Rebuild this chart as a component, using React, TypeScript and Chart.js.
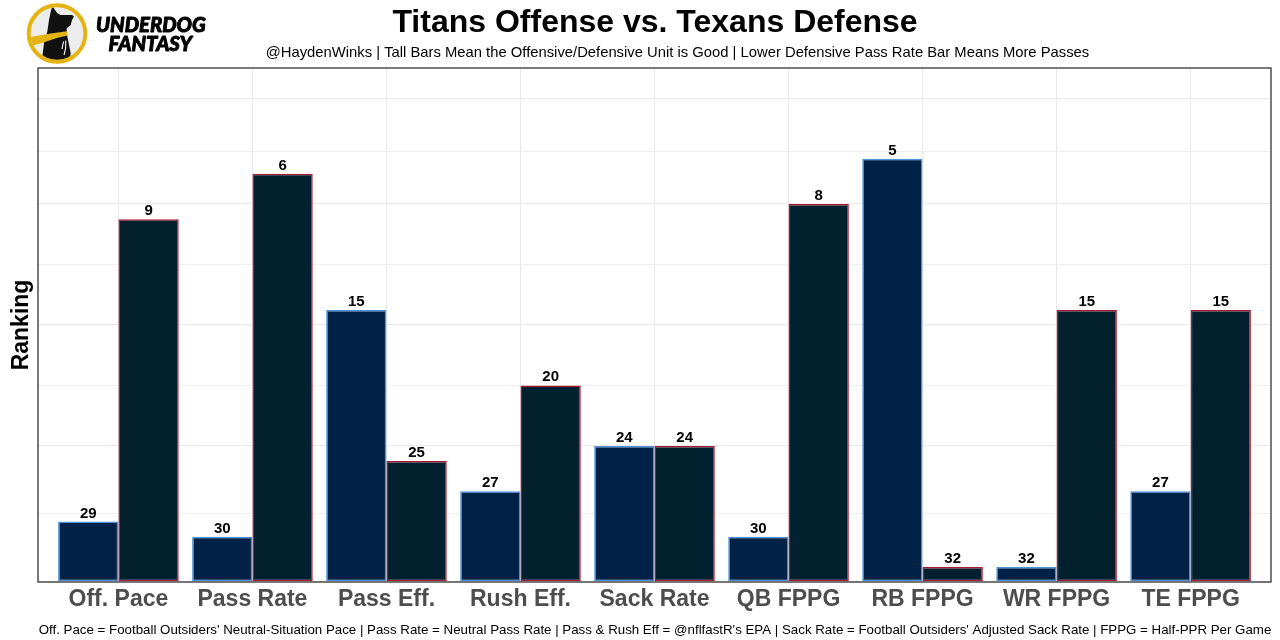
import React, { useEffect, useRef } from "react";
import { Chart, registerables } from "chart.js";

Chart.register(...registerables);

// ---------- data ----------
const categories = [
  "Off. Pace",
  "Pass Rate",
  "Pass Eff.",
  "Rush Eff.",
  "Sack Rate",
  "QB FPPG",
  "RB FPPG",
  "WR FPPG",
  "TE FPPG",
];
const titansOffenseRanks = [29, 30, 15, 27, 24, 30, 5, 32, 27];
const texansDefenseRanks = [9, 6, 25, 20, 24, 8, 32, 15, 15];
const rankBase = 33; // bar height = rankBase - rank (tall bar = good unit)
const majorBreaks = [0, 9, 17, 25, 32];
const minorBreaks = [4.5, 13, 21, 28.5];

const titleText = "Titans Offense vs. Texans Defense";
const subtitleText =
  "@HaydenWinks | Tall Bars Mean the Offensive/Defensive Unit is Good | Lower Defensive Pass Rate Bar Means More Passes";
const captionText =
  "Off. Pace = Football Outsiders' Neutral-Situation Pace | Pass Rate = Neutral Pass Rate | Pass & Rush Eff = @nflfastR's EPA | Sack Rate = Football Outsiders' Adjusted Sack Rate | FPPG = Half-PPR Per Game";
const yTitle = "Ranking";

const FONT = '"Liberation Sans", Arial, Helvetica, sans-serif';

const rankSets = [titansOffenseRanks, texansDefenseRanks];

function drawLogo(ctx: CanvasRenderingContext2D) {
  const cx = 57, cy = 33.5;
  const gold = "#e6b412";
  ctx.save();
  ctx.beginPath();
  ctx.arc(cx, cy, 26.5, 0, Math.PI * 2);
  ctx.fillStyle = "#ececec";
  ctx.fill();
  ctx.save();
  ctx.beginPath();
  ctx.arc(cx, cy, 26.5, 0, Math.PI * 2);
  ctx.clip();
  // dog silhouette
  ctx.fillStyle = "#111111";
  ctx.beginPath();
  const pts: [number, number][] = [
    [50.7, 11.7], [52.3, 6], [57.3, 13.3], [60.7, 15], [72.3, 15], [74, 16.7],
    [72, 20], [70.7, 25], [66.7, 28.3], [66.7, 33.3], [70.7, 53.3], [69, 66],
    [40.7, 66], [42.3, 56.7], [44, 43.3], [47.3, 31.7], [49, 20],
  ];
  pts.forEach(([x, y], i) => (i === 0 ? ctx.moveTo(x, y) : ctx.lineTo(x, y)));
  ctx.closePath();
  ctx.fill();
  // scarf
  ctx.fillStyle = gold;
  ctx.beginPath();
  ctx.moveTo(28, 37.3);
  ctx.quadraticCurveTo(42, 35, 52.3, 33.3);
  ctx.lineTo(67.3, 31.2);
  ctx.lineTo(67.5, 35.5);
  ctx.quadraticCurveTo(58, 37, 50.7, 40);
  ctx.quadraticCurveTo(40, 44, 28, 47);
  ctx.closePath();
  ctx.fill();
  // collar tag highlight
  ctx.strokeStyle = "#ffffff";
  ctx.lineWidth = 1.1;
  ctx.beginPath();
  ctx.moveTo(65.7, 40.5);
  ctx.quadraticCurveTo(66.5, 48, 64, 55);
  ctx.stroke();
  ctx.beginPath();
  ctx.moveTo(63.5, 41.5);
  ctx.lineTo(62, 49);
  ctx.stroke();
  ctx.restore();
  // ring
  ctx.beginPath();
  ctx.arc(cx, cy, 28.3, 0, Math.PI * 2);
  ctx.strokeStyle = gold;
  ctx.lineWidth = 4;
  ctx.stroke();

  ctx.fillStyle = "#000";
  ctx.strokeStyle = "#000";
  ctx.lineWidth = 0.9;
  ctx.lineJoin = "round";
  ctx.textAlign = "left";
  ctx.textBaseline = "alphabetic";
  ctx.font = `italic 900 20.3px Lato, "DejaVu Sans", sans-serif`;
  ctx.fillText("UNDERDOG", 96, 32);
  ctx.strokeText("UNDERDOG", 96, 32);
  ctx.fillText("FANTASY", 108.5, 51);
  ctx.strokeText("FANTASY", 108.5, 51);
  ctx.restore();
}

const decorPlugin = {
  id: "decor",
  afterDatasetsDraw(chart: any) {
    const ctx = chart.ctx;
    ctx.save();
    ctx.font = `bold 15px ${FONT}`;
    ctx.fillStyle = "#000";
    ctx.textAlign = "center";
    ctx.textBaseline = "alphabetic";
    chart.data.datasets.forEach((_ds: any, di: number) => {
      const meta = chart.getDatasetMeta(di);
      meta.data.forEach((el: any, i: number) => {
        ctx.fillText(String(rankSets[di][i]), el.x, el.y - 4);
      });
    });
    ctx.restore();
  },
  afterDraw(chart: any) {
    const ctx = chart.ctx;
    const a = chart.chartArea;
    ctx.save();
    // panel border
    ctx.strokeStyle = "#333333";
    ctx.lineWidth = 1.3;
    ctx.strokeRect(a.left, a.top, a.right - a.left, a.bottom - a.top);

    // title / subtitle
    ctx.fillStyle = "#000";
    ctx.textAlign = "center";
    ctx.textBaseline = "alphabetic";
    ctx.font = `bold 32px ${FONT}`;
    ctx.fillText(titleText, 655, 32);
    ctx.font = `14.8px ${FONT}`;
    ctx.fillText(subtitleText, 677.5, 57);
    // caption
    ctx.font = `13.3px ${FONT}`;
    ctx.fillText(captionText, 655, 634);

    // y title
    ctx.save();
    ctx.translate(28, (a.top + a.bottom) / 2);
    ctx.rotate(-Math.PI / 2);
    ctx.font = `bold 23px ${FONT}`;
    ctx.fillText(yTitle, 0, 0);
    ctx.restore();

    drawLogo(ctx);
    ctx.restore();
  },
};

export default function App() {
  const ref = useRef<HTMLCanvasElement | null>(null);
  useEffect(() => {
    document.body.style.margin = "0";
    const canvas = ref.current;
    if (!canvas) return;
    const chart = new Chart(canvas, {
      type: "bar",
      data: {
        datasets: [
          {
            label: "Titans Offense",
            data: categories.map((_c, i) => ({ x: i, y: rankBase - titansOffenseRanks[i] })),
            backgroundColor: "#012147",
            borderColor: "#4B92DB",
            borderWidth: 1.5,
            borderSkipped: false,
            categoryPercentage: 0.9,
            barPercentage: 1.0,
          },
          {
            label: "Texans Defense",
            data: categories.map((_c, i) => ({ x: i, y: rankBase - texansDefenseRanks[i] })),
            backgroundColor: "#03202F",
            borderColor: "#A71930",
            borderWidth: 1.5,
            borderSkipped: false,
            categoryPercentage: 0.9,
            barPercentage: 1.0,
          },
        ],
      },
      options: {
        responsive: false,
        animation: false,
        devicePixelRatio: 1,
        layout: { padding: { left: 38, right: 9, top: 68, bottom: 0 } },
        plugins: {
          legend: { display: false },
          title: { display: false },
          tooltip: { enabled: false },
        },
        scales: {
          x: {
            type: "linear",
            min: -0.6,
            max: 8.6,
            offset: false,
            afterBuildTicks: (scale: any) => {
              scale.ticks = categories.map((_c, i) => ({ value: i }));
            },
            afterFit: (scale: any) => {
              scale.height = 58;
            },
            grid: { color: "#ebebeb", lineWidth: 1.1, drawTicks: false, offset: false },
            border: { display: false },
            ticks: {
              autoSkip: false,
              maxRotation: 0,
              minRotation: 0,
              padding: 4,
              color: "#4d4d4d",
              font: { family: FONT, size: 23, weight: "bold" },
              callback: (_v: any, i: number) => categories[i],
            },
          },
          y: {
            type: "linear",
            min: 0,
            max: 34,
            afterBuildTicks: (scale: any) => {
              scale.ticks = [...majorBreaks, ...minorBreaks]
                .sort((p, q) => p - q)
                .map((v) => ({ value: v }));
            },
            afterFit: (scale: any) => {
              scale.width = 0;
            },
            grid: {
              color: "#ebebeb",
              lineWidth: (c: any) =>
                c.tick && majorBreaks.includes(c.tick.value) ? 1.3 : 0.8,
              drawTicks: false,
            },
            border: { display: false },
            ticks: { display: false },
          },
        },
      },
      plugins: [decorPlugin],
    } as any);
    return () => chart.destroy();
  }, []);
  return (
    <div style={{ position: "fixed", left: 0, top: 0, width: 1280, height: 640, background: "#fff" }}>
      <canvas ref={ref} width={1280} height={640} style={{ display: "block" }} />
    </div>
  );
}
